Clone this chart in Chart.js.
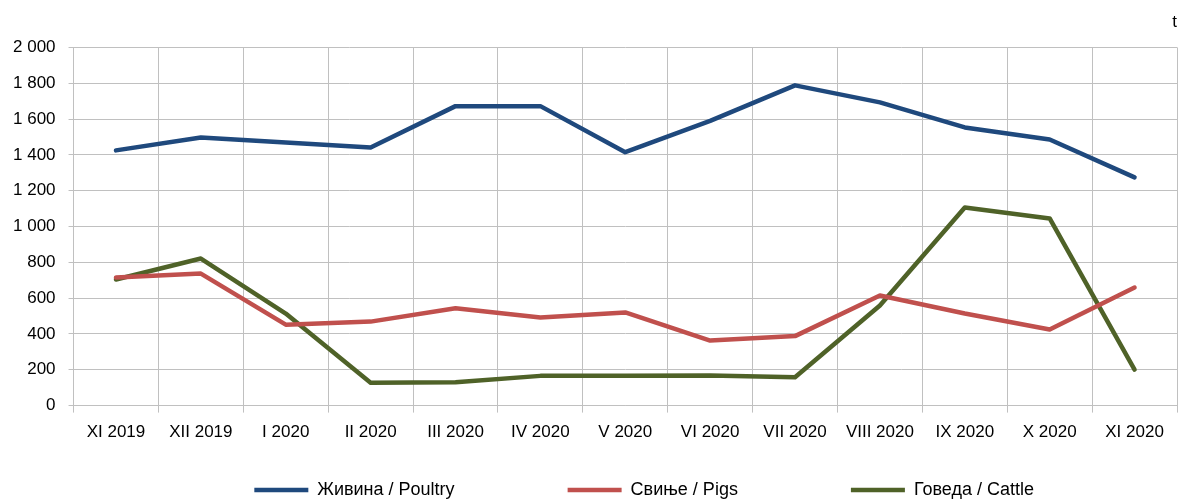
<!DOCTYPE html>
<html>
<head>
<meta charset="utf-8">
<script src="https://cdn.jsdelivr.net/npm/chart.js@4"></script>
<style>
  html, body { margin: 0; padding: 0; background: #fff; }
  #wrap { width: 1178px; height: 499px; }
</style>
</head>
<body>
<div id="wrap"><canvas id="lineChart"></canvas></div>
<script>
const months = ['XI 2019', 'XII 2019', 'I 2020', 'II 2020', 'III 2020', 'IV 2020', 'V 2020',
  'VI 2020', 'VII 2020', 'VIII 2020', 'IX 2020', 'X 2020', 'XI 2020'];
const poultry = [1425, 1497, 1469, 1441, 1672, 1672, 1415, 1590, 1788, 1693, 1553, 1486, 1274];
const pigs = [715, 737, 452, 469, 544, 492, 520, 363, 388, 615, 514, 425, 659];
const cattle = [704, 821, 514, 128, 130, 166, 166, 168, 158, 559, 1106, 1045, 201];
const seriesNames = ['Живина / Poultry', 'Свиње / Pigs', 'Говеда / Cattle'];

const FONT = "'Liberation Sans', Arial, sans-serif";
const ctx = document.getElementById('lineChart').getContext('2d');

// legend gaps in the original are wide, pad with trailing spaces
// (legend is right-aligned, the tail on the last one keeps it off the edge)
const legendTail = [' '.repeat(21), ' '.repeat(21), ' '.repeat(27)];

function line(label, data, color) {
  return {
    label: label,
    data: data,
    borderColor: color,
    backgroundColor: color,
    borderWidth: 4.5,
    pointRadius: 0,
    tension: 0,
    borderCapStyle: 'round',
    borderJoinStyle: 'round'
  };
}

new Chart(ctx, {
  type: 'line',
  data: {
    labels: months,
    datasets: [
      line(seriesNames[0], poultry, '#1f497d'),
      line(seriesNames[1], pigs, '#c0504d'),
      line(seriesNames[2], cattle, '#4f6228')
    ]
  },
  options: {
    responsive: true,
    maintainAspectRatio: false,
    animation: false,
    layout: { padding: { left: 0, right: 1, top: 0, bottom: 0 } },
    plugins: {
      title: {
        display: true,
        text: 't',
        align: 'end',
        color: '#000',
        font: { family: FONT, size: 17, weight: 'normal' },
        padding: { top: 12, bottom: 15 }
      },
      legend: {
        position: 'bottom',
        align: 'end',
        maxHeight: 26,
        labels: {
          usePointStyle: true,
          pointStyle: 'line',
          pointStyleWidth: 54,
          color: '#000',
          padding: 8,
          font: { family: FONT, size: 18 },
          generateLabels: function (chart) {
            const items = Chart.defaults.plugins.legend.labels.generateLabels(chart);
            items.forEach((it, i) => { it.text = it.text + legendTail[i]; });
            return items;
          }
        }
      },
      tooltip: { enabled: false }
    },
    scales: {
      x: {
        offset: true,
        grid: { offset: true, color: '#c0c0c0', lineWidth: 1, tickLength: 7 },
        border: { color: '#c0c0c0', width: 1 },
        ticks: { color: '#000', padding: 10, maxRotation: 0, autoSkip: false, font: { family: FONT, size: 17 } },
        afterFit: function (scale) {
          scale.height += 20;
          scale.paddingLeft = 0;
          scale.paddingRight = 0;
        }
      },
      y: {
        min: 0,
        max: 2000,
        grid: { color: '#c0c0c0', lineWidth: 1, tickLength: 5 },
        border: { color: '#c0c0c0', width: 1 },
        ticks: {
          stepSize: 200,
          color: '#000',
          padding: 13,
          font: { family: FONT, size: 17 },
          callback: function (v) {
            return v >= 1000 ? Math.floor(v / 1000) + ' ' + String(v % 1000).padStart(3, '0') : String(v);
          }
        }
      }
    }
  }
});
</script>
</body>
</html>
